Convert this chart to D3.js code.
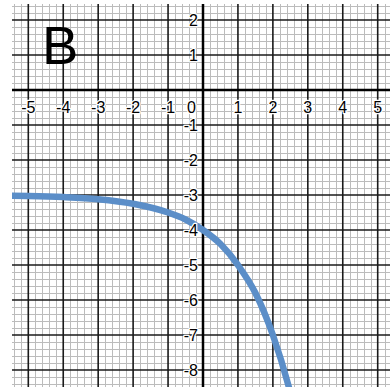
<!DOCTYPE html>
<html><head><meta charset="utf-8">
<script src="https://cdn.jsdelivr.net/npm/d3@7"></script>
<style>html,body{margin:0;padding:0;background:#fff;}svg{display:block;}</style>
</head><body>
<script>
// Data
const xTicks = [-5,-4,-3,-2,-1,1,2,3,4,5];
const yTicks = [2,1,-1,-2,-3,-4,-5,-6,-7,-8];
const curveX = [-5.6,-5,-4,-3,-2,-1,-0.5,0,0.5,1,1.5,2,2.5,2.6];
const curveY = [-3.02,-3.03,-3.06,-3.12,-3.25,-3.5,-3.7,-4,-4.4,-5,-5.8,-7,-8.65,-9.05];
const panelLabel = "B";

const W = 390, H = 388;
const svg = d3.select("body").append("svg").attr("width", W).attr("height", H);
const x = d3.scaleLinear().domain([-5,5]).range([28.3,377.7]);
const y = d3.scaleLinear().domain([2,-8]).range([20,370]);

const L = 12, R = 390, T = 4, B = 387;
const minorX = d3.range(-54,55).map(d=>d/10).filter(d=>Math.round(d*10)%2===0 && x(d)>=L && x(d)<=R);
const minorY = d3.range(-86,26).map(d=>d/10).filter(d=>Math.round(d*10)%2===0 && y(d)>=T && y(d)<=B);

const g = svg.append("g");
// minor grid
g.selectAll(".mx").data(minorX.filter(d=>Math.abs(d-Math.round(d))>1e-6)).join("line")
  .attr("x1",d=>Math.round(x(d))+0.5).attr("x2",d=>Math.round(x(d))+0.5).attr("y1",T).attr("y2",B)
  .attr("stroke","#bcbcbc").attr("stroke-width",1);
g.selectAll(".my").data(minorY.filter(d=>Math.abs(d-Math.round(d))>1e-6)).join("line")
  .attr("y1",d=>Math.round(y(d))+0.5).attr("y2",d=>Math.round(y(d))+0.5).attr("x1",L).attr("x2",R)
  .attr("stroke","#bcbcbc").attr("stroke-width",1);
// major grid
g.selectAll(".Mx").data(xTicks).join("line")
  .attr("x1",d=>x(d)).attr("x2",d=>x(d)).attr("y1",T).attr("y2",B)
  .attr("stroke","#1a1a1a").attr("stroke-width",1.6);
g.selectAll(".My").data(yTicks).join("line")
  .attr("y1",d=>y(d)).attr("y2",d=>y(d)).attr("x1",L).attr("x2",R)
  .attr("stroke","#1a1a1a").attr("stroke-width",1.6);
// axes
g.append("line").attr("x1",x(0)).attr("x2",x(0)).attr("y1",T).attr("y2",B).attr("stroke","#000").attr("stroke-width",2.5);
g.append("line").attr("y1",y(0)).attr("y2",y(0)).attr("x1",L).attr("x2",R).attr("stroke","#000").attr("stroke-width",2.5);

// curve
svg.append("clipPath").attr("id","clip").append("rect").attr("x",L).attr("y",T).attr("width",R-L).attr("height",B-T);
const pts = curveX.map((d,i)=>[d,curveY[i]]);
svg.append("path").attr("clip-path","url(#clip)")
  .attr("d", d3.line().x(d=>x(d[0])).y(d=>y(d[1])).curve(d3.curveMonotoneX)(pts))
  .attr("fill","none").attr("stroke","#5b8ec8").attr("stroke-width",6.5).attr("stroke-linecap","round");

// labels
const font = "'Liberation Sans', Arial, sans-serif";
function lab(sel){
  return sel.attr("font-family",font).attr("font-size",16).attr("fill","#000")
    .attr("stroke","#fff").attr("stroke-width",2.5).attr("paint-order","stroke").attr("stroke-linejoin","round");
}
lab(svg.selectAll(".xl").data(xTicks).join("text")
  .attr("x",d=>x(d)).attr("y",y(0)+23).attr("text-anchor","middle").text(d=>d<0?"-"+Math.abs(d):d));
lab(svg.selectAll(".yl").data(yTicks).join("text")
  .attr("x",x(0)-5).attr("y",d=>y(d)).attr("dy","0.37em").attr("text-anchor","end").text(d=>d<0?"-"+Math.abs(d):d));
lab(svg.append("text").attr("x",x(0)-7).attr("y",y(0)+23).attr("text-anchor","end").text("0"));

svg.append("text").attr("x",42).attr("y",63.5).attr("font-family",font).attr("font-size",54.5).attr("fill","#000").text(panelLabel);
</script>
</body></html>
